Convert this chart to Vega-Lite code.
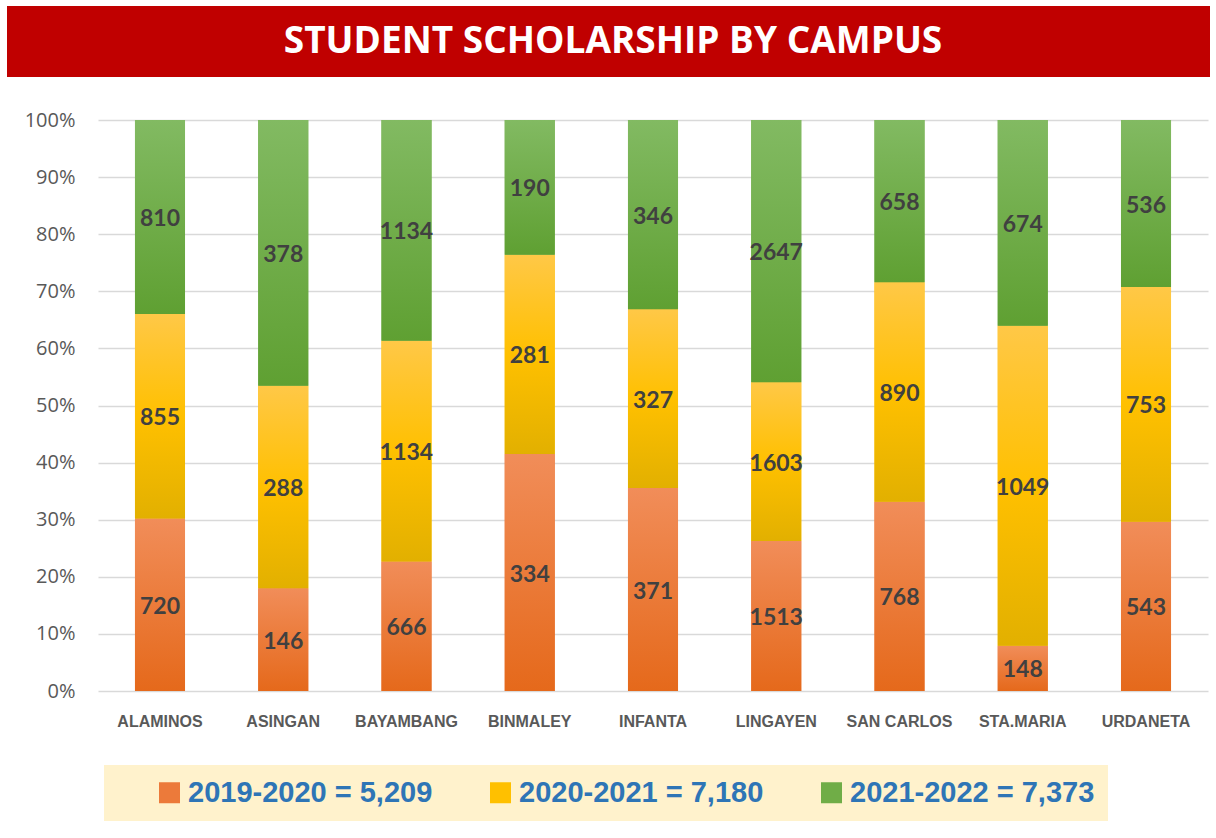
{
  "$schema": "https://vega.github.io/schema/vega-lite/v6.json",
  "background": "white",
  "padding": {"left": 7, "top": 6, "right": 6, "bottom": 0},
  "spacing": 33,
  "config": {
    "view": {"stroke": null},
    "font": "Open Sans"
  },
  "vconcat": [
    {
      "width": 1112,
      "height": 71,
      "view": {"fill": "#C00000", "stroke": null},
      "data": {"values": [{"title": "STUDENT SCHOLARSHIP BY CAMPUS"}]},
      "mark": {"type": "text", "color": "white", "font": "Open Sans", "fontWeight": "bold", "fontSize": 37, "align": "center", "baseline": "middle", "dx": -41},
      "encoding": {
        "y": {
          "field": "title",
          "type": "nominal",
          "title": null,
          "axis": {
            "labels": false,
            "ticks": false,
            "grid": false,
            "domain": true,
            "domainColor": "#C00000",
            "domainWidth": 91,
            "domainCap": "butt",
            "offset": 45.5,
            "translate": 0,
            "minExtent": 0
          }
        },
        "text": {"field": "title"}
      }
    },
    {
      "width": 1110,
      "height": 571,
      "data": {
        "values": [
          {"campus": "ALAMINOS", "series": "2019-2020", "value": 720},
          {"campus": "ALAMINOS", "series": "2020-2021", "value": 855},
          {"campus": "ALAMINOS", "series": "2021-2022", "value": 810},
          {"campus": "ASINGAN", "series": "2019-2020", "value": 146},
          {"campus": "ASINGAN", "series": "2020-2021", "value": 288},
          {"campus": "ASINGAN", "series": "2021-2022", "value": 378},
          {"campus": "BAYAMBANG", "series": "2019-2020", "value": 666},
          {"campus": "BAYAMBANG", "series": "2020-2021", "value": 1134},
          {"campus": "BAYAMBANG", "series": "2021-2022", "value": 1134},
          {"campus": "BINMALEY", "series": "2019-2020", "value": 334},
          {"campus": "BINMALEY", "series": "2020-2021", "value": 281},
          {"campus": "BINMALEY", "series": "2021-2022", "value": 190},
          {"campus": "INFANTA", "series": "2019-2020", "value": 371},
          {"campus": "INFANTA", "series": "2020-2021", "value": 327},
          {"campus": "INFANTA", "series": "2021-2022", "value": 346},
          {"campus": "LINGAYEN", "series": "2019-2020", "value": 1513},
          {"campus": "LINGAYEN", "series": "2020-2021", "value": 1603},
          {"campus": "LINGAYEN", "series": "2021-2022", "value": 2647},
          {"campus": "SAN  CARLOS", "series": "2019-2020", "value": 768},
          {"campus": "SAN  CARLOS", "series": "2020-2021", "value": 890},
          {"campus": "SAN  CARLOS", "series": "2021-2022", "value": 658},
          {"campus": "STA.MARIA", "series": "2019-2020", "value": 148},
          {"campus": "STA.MARIA", "series": "2020-2021", "value": 1049},
          {"campus": "STA.MARIA", "series": "2021-2022", "value": 674},
          {"campus": "URDANETA", "series": "2019-2020", "value": 543},
          {"campus": "URDANETA", "series": "2020-2021", "value": 753},
          {"campus": "URDANETA", "series": "2021-2022", "value": 536}
        ]
      },
      "transform": [
        {"stack": "value", "groupby": ["campus"], "sort": [{"field": "series", "order": "ascending"}], "offset": "normalize", "as": ["v0", "v1"]},
        {"calculate": "(datum.v0 + datum.v1) / 2", "as": "mid"}
      ],
      "encoding": {
        "x": {
          "field": "campus",
          "type": "nominal",
          "sort": null,
          "title": null,
          "scale": {"paddingInner": 0.594, "paddingOuter": 0.3},
          "axis": {
            "domain": false,
            "ticks": false,
            "labelAngle": 0,
            "labelFont": "Liberation Sans",
            "labelFontWeight": "bold",
            "labelFontSize": 16,
            "labelColor": "#595959",
            "labelPadding": 22
          }
        },
        "y": {
          "field": "v0",
          "type": "quantitative",
          "title": null,
          "scale": {"domain": [0, 1]},
          "axis": {
            "format": ".0%",
            "values": [0, 0.1, 0.2, 0.3, 0.4, 0.5, 0.6, 0.7, 0.8, 0.9, 1],
            "domain": false,
            "ticks": false,
            "grid": true,
            "gridColor": "#D9D9D9",
            "gridWidth": 1.5,
            "labelFont": "Open Sans",
            "labelFontSize": 20,
            "labelColor": "#595959",
            "labelPadding": 23,
            "minExtent": 91
          }
        },
        "y2": {"field": "v1"}
      },
      "layer": [
        {
          "mark": {"type": "bar"},
          "encoding": {
            "color": {
              "field": "series",
              "type": "nominal",
              "scale": {
                "domain": ["2019-2020", "2020-2021", "2021-2022"],
                "range": ["#EC7A3A", "#FFC000", "#70AD47"]
              },
              "legend": {
                "title": "\u00a0",
                "titleOrient": "left",
                "titleFontSize": 10,
                "titlePadding": 38,
                "orient": "none",
                "legendX": 6,
                "legendY": 759,
                "direction": "horizontal",
                "fillColor": "#FFF2CC",
                "padding": 13,
                "symbolType": "square",
                "symbolSize": 441,
                "symbolStrokeWidth": 0,
                "symbolOpacity": 1,
                "labelOffset": 4,
                "columnPadding": 53,
                "labelFont": "Liberation Sans",
                "labelFontWeight": "bold",
                "labelFontSize": 29,
                "labelColor": "#2E75B6",
                "labelLimit": 400,
                "labelExpr": "datum.label + ' = ' + {'2019-2020': '5,209', '2020-2021': '7,180', '2021-2022': '7,373'}[datum.label]"
              }
            }
          }
        },
        {
          "transform": [{"filter": "datum.series === '2019-2020'"}],
          "mark": {"type": "bar", "opacity": 1, "color": {"gradient": "linear", "x1": 0, "y1": 0, "x2": 0, "y2": 1, "stops": [{"offset": 0, "color": "#F18D59"}, {"offset": 1, "color": "#E5691B"}]}}
        },
        {
          "transform": [{"filter": "datum.series === '2020-2021'"}],
          "mark": {"type": "bar", "opacity": 1, "color": {"gradient": "linear", "x1": 0, "y1": 0, "x2": 0, "y2": 1, "stops": [{"offset": 0, "color": "#FFC847"}, {"offset": 0.5, "color": "#FFC000"}, {"offset": 1, "color": "#E2B000"}]}}
        },
        {
          "transform": [{"filter": "datum.series === '2021-2022'"}],
          "mark": {"type": "bar", "opacity": 1, "color": {"gradient": "linear", "x1": 0, "y1": 0, "x2": 0, "y2": 1, "stops": [{"offset": 0, "color": "#82BA62"}, {"offset": 1, "color": "#5FA032"}]}}
        },
        {
          "mark": {"type": "text", "font": "Lato", "fontWeight": "bold", "fontSize": 23, "color": "#404040", "align": "center", "baseline": "middle", "dy": 2},
          "encoding": {
            "y": {"field": "mid", "type": "quantitative"},
            "y2": null,
            "text": {"field": "value", "type": "quantitative"}
          }
        }
      ]
    }
  ]
}
